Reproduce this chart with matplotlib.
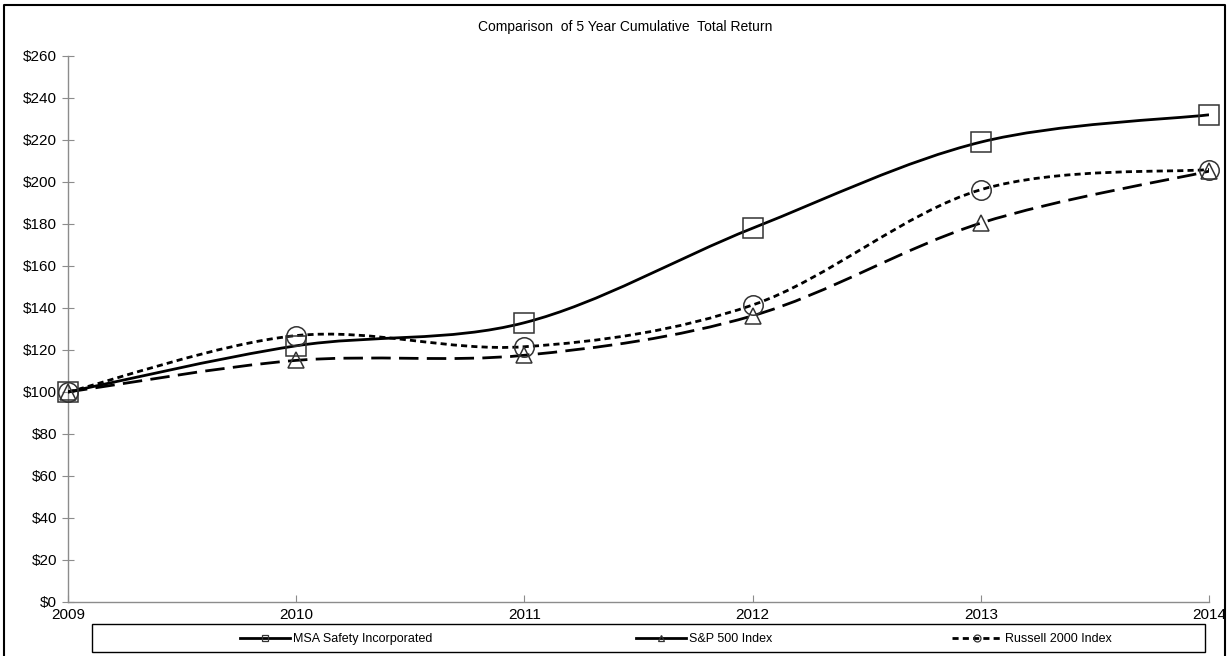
import numpy as np
import matplotlib.pyplot as plt
from matplotlib.path import Path
from matplotlib.patches import PathPatch, Rectangle
from matplotlib.lines import Line2D

plt.rcParams['font.family'] = ['Liberation Sans', 'DejaVu Sans']

# Data: cumulative total return, base $100 in 2009
years = [2009, 2010, 2011, 2012, 2013, 2014]
msa = [100, 122, 133, 178, 219, 232]
sp500 = [100, 115.06, 117.49, 136.30, 180.44, 205.14]
russell = [100, 126.86, 121.56, 141.43, 196.34, 205.95]
names = ['MSA Safety Incorporated', 'S&P 500 Index', 'Russell 2000 Index']
yticks = list(range(0, 261, 20))


def smooth_path(xs, ys):
    # Excel-like smoothed line: Catmull-Rom segments as cubic Bezier curves
    pts = np.column_stack([xs, ys]).astype(float)
    verts = [pts[0]]
    codes = [Path.MOVETO]
    n = len(pts)
    for i in range(n - 1):
        p0 = pts[i - 1] if i > 0 else pts[i]
        p1 = pts[i]
        p2 = pts[i + 1]
        p3 = pts[i + 2] if i + 2 < n else pts[i + 1]
        c1 = p1 + (p2 - p0) / 6.0
        c2 = p2 - (p3 - p1) / 6.0
        verts += [c1, c2, p2]
        codes += [Path.CURVE4] * 3
    return Path(verts, codes)


fig = plt.figure(figsize=(12.28, 6.56), dpi=100)
ax = fig.add_axes([68 / 1228, 54 / 656, 1141 / 1228, 546 / 656])

series = [
    (msa, 's', (0, ()), 14),
    (sp500, '^', (0, (7, 3)), 11),
    (russell, 'o', (0, (2.2, 1.5)), 14),
]
handles = []
for (vals, mk, ls, ms), name in zip(series, names):
    patch = PathPatch(smooth_path(years, vals), facecolor='none', edgecolor='black',
                      lw=2, linestyle=ls, capstyle='butt', zorder=3)
    ax.add_patch(patch)
    ax.plot(years, vals, linestyle='none', marker=mk, markersize=ms,
            markerfacecolor='none', markeredgecolor='#333333', markeredgewidth=1.1,
            zorder=4, clip_on=False)
    handles.append(Line2D([], [], color='black', lw=2,
                          linestyle=ls if mk == 'o' else '-', marker=mk,
                          markersize=5, markerfacecolor='none',
                          markeredgecolor='#333333', markeredgewidth=0.9))

ax.set_xlim(2009, 2014)
ax.set_ylim(0, 260)
ax.set_xticks(years)
ax.set_yticks(yticks)
ax.set_yticklabels(['$%d' % v for v in yticks])
for s in ['top', 'right']:
    ax.spines[s].set_visible(False)
for s in ['left', 'bottom']:
    ax.spines[s].set_color('#8c8c8c')
    ax.spines[s].set_linewidth(1)
ax.tick_params(axis='y', direction='inout', length=8, color='#8c8c8c', labelsize=11, pad=4)
ax.tick_params(axis='x', direction='in', length=5, color='#8c8c8c', labelsize=11, pad=4)

fig.text(625 / 1228, 1 - 27 / 656, 'Comparison  of 5 Year Cumulative  Total Return',
         ha='center', va='center', fontsize=10)

# legend box with three entries placed along it
fig.add_artist(Rectangle((92 / 1228, 4 / 656), 1113 / 1228, 28 / 656,
                         transform=fig.transFigure, facecolor='white',
                         edgecolor='black', lw=1))
entry_left = [240, 636, 952]
for h, name, xl in zip(handles, names, entry_left):
    fig.legend([h], [name], loc='center left',
               bbox_to_anchor=(xl / 1228, 17 / 656),
               frameon=False, fontsize=9, handlelength=4.0,
               handletextpad=0.25, borderaxespad=0, borderpad=0)

# outer chart border (left, top, right)
fig.add_artist(Line2D([4 / 1228, 4 / 1228, 1225 / 1228, 1225 / 1228],
                      [0, 1 - 5 / 656, 1 - 5 / 656, 0], color='black', lw=1.5))

fig.savefig('out.png', dpi=100)
